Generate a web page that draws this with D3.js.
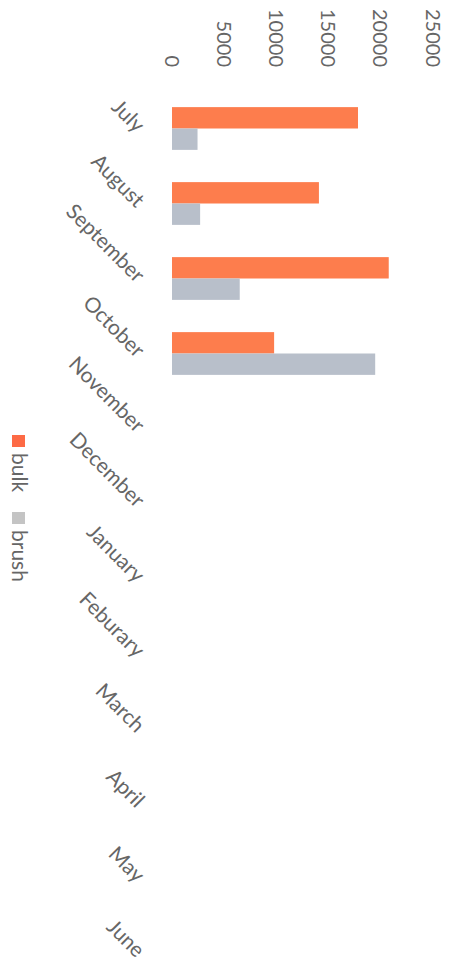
<!DOCTYPE html>
<html><head><meta charset="utf-8">
<script src="https://cdn.jsdelivr.net/npm/d3@7"></script>
<style>html,body{margin:0;padding:0;background:#fff;}svg{display:block;}</style>
</head><body>
<svg id="chart" width="456" height="966"></svg>
<script>
const categories = ["July","August","September","October","November","December","January","Feburary","March","April","May","June"];
const bulk  = [17850, 14100, 20800, 9800, null, null, null, null, null, null, null, null];
const brush = [2450, 2700, 6500, 19500, null, null, null, null, null, null, null, null];
const ticks = [0, 5000, 10000, 15000, 20000, 25000];
const seriesNames = ["bulk","brush"];
const colors = ["#fd7d4d", "#b8bfca"];
const legendColors = ["#fd6a45", "#c4c4c4"];

const svg = d3.select("#chart");
const font = "Lato, 'Open Sans', sans-serif";
const textColor = "#666666";

const x = d3.scaleLinear().domain([0, 25000]).range([172, 432.5]);
const y = d3.scaleBand().domain(categories).range([91, 991]).paddingInner(0.43).paddingOuter(0.215);
const sub = d3.scaleBand().domain(seriesNames).range([0, y.bandwidth()]);

// value tick labels (rotated)
svg.append("g").selectAll("text").data(ticks).join("text")
  .attr("transform", d => `translate(${x(d)},67) rotate(90)`)
  .attr("text-anchor", "end")
  .attr("dy", "0.35em")
  .attr("font-family", font).attr("font-size", 20)
  .attr("fill", textColor)
  .text(d => d);

// bars
const data = [bulk, brush];
seriesNames.forEach((s, si) => {
  svg.append("g").selectAll("rect")
    .data(categories.map((c, i) => ({c, v: data[si][i]})).filter(d => d.v != null))
    .join("rect")
    .attr("x", x(0))
    .attr("y", d => y(d.c) + sub(s))
    .attr("width", d => x(d.v) - x(0))
    .attr("height", sub.bandwidth())
    .attr("fill", colors[si]);
});

// category labels
svg.append("g").selectAll("text").data(categories).join("text")
  .attr("transform", d => `translate(141,${y(d) + y.bandwidth()/2}) rotate(45)`)
  .attr("text-anchor", "end")
  .attr("dy", "0.35em")
  .attr("font-family", font).attr("font-size", 21)
  .attr("fill", textColor)
  .text(d => d);

// legend
const legendY = [435, 512];
seriesNames.forEach((s, i) => {
  svg.append("rect").attr("x", 12).attr("y", legendY[i]).attr("width", 13).attr("height", 12)
    .attr("fill", legendColors[i]);
  svg.append("text")
    .attr("transform", `translate(19,${legendY[i] + 18}) rotate(90)`)
    .attr("dy", "0.35em")
    .attr("font-family", font).attr("font-size", 21)
    .attr("fill", textColor)
    .text(s);
});
</script>
</body></html>
